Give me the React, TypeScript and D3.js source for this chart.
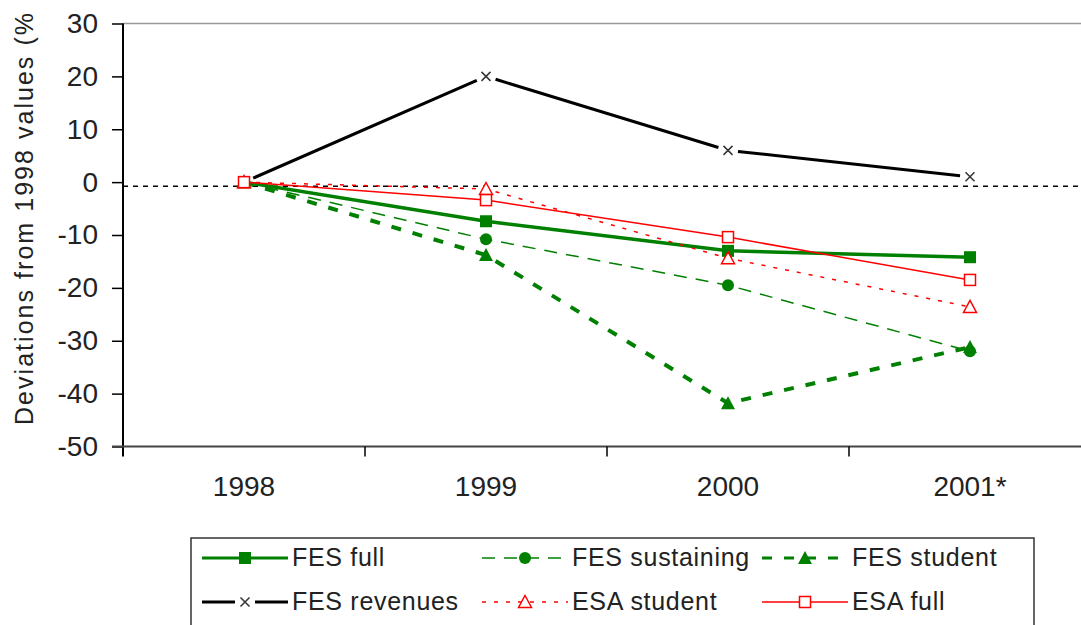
// @ts-nocheck
import * as d3 from "d3";
import React, { useRef, useEffect } from "react";

const years = ["1998", "1999", "2000", "2001*"];
const yTicks = [30, 20, 10, 0, -10, -20, -30, -40, -50];

const fesFull = [0, -7.4, -13.0, -14.2];
const fesSustaining = [0, -10.8, -19.5, -32.0];
const fesStudent = [0, -13.8, -41.8, -31.2];
const fesRevenues = [0, 20.0, 6.0, 1.0];
const esaStudent = [0, -1.3, -14.4, -23.6];
const esaFull = [0, -3.4, -10.4, -18.5];
const baseline = -0.8;

const GREEN = "#008000";
const RED = "#ff0000";

// drawing order (back to front); gap = blank space left around markers
const series = [
  { name: "FES revenues", values: fesRevenues, color: "#000", width: 3, dash: null, marker: "x", gap: 10 },
  { name: "FES student", values: fesStudent, color: GREEN, width: 4, dash: "10,12", marker: "triFill", gap: 0 },
  { name: "FES sustaining", values: fesSustaining, color: GREEN, width: 1.5, dash: "13,9", marker: "circle", gap: 0 },
  { name: "FES full", values: fesFull, color: GREEN, width: 3.5, dash: null, marker: "squareFill", gap: 0 },
  { name: "ESA student", values: esaStudent, color: RED, width: 1.5, dash: "4,8", marker: "triOpen", gap: 0 },
  { name: "ESA full", values: esaFull, color: RED, width: 1.5, dash: null, marker: "squareOpen", gap: 0 },
];

const legendOrder = ["FES full", "FES sustaining", "FES student", "FES revenues", "ESA student", "ESA full"];

function drawMarker(g, kind, cx, cy, color) {
  if (kind === "squareFill") {
    g.append("rect").attr("x", cx - 6).attr("y", cy - 6).attr("width", 12).attr("height", 12).attr("fill", color);
  } else if (kind === "squareOpen") {
    g.append("rect").attr("x", cx - 5.5).attr("y", cy - 5.5).attr("width", 11).attr("height", 11)
      .attr("fill", "#fff").attr("stroke", color).attr("stroke-width", 1.5);
  } else if (kind === "circle") {
    g.append("circle").attr("cx", cx).attr("cy", cy).attr("r", 6).attr("fill", color);
  } else if (kind === "triFill") {
    g.append("path").attr("d", `M${cx},${cy - 7}L${cx + 7},${cy + 6}L${cx - 7},${cy + 6}Z`).attr("fill", color);
  } else if (kind === "triOpen") {
    g.append("path").attr("d", `M${cx},${cy - 6.5}L${cx + 6.5},${cy + 5.5}L${cx - 6.5},${cy + 5.5}Z`)
      .attr("fill", "#fff").attr("stroke", color).attr("stroke-width", 1.5);
  } else if (kind === "x") {
    g.append("path").attr("d", `M${cx - 4.5},${cy - 4.5}L${cx + 4.5},${cy + 4.5}M${cx + 4.5},${cy - 4.5}L${cx - 4.5},${cy + 4.5}`)
      .attr("stroke", "#333").attr("stroke-width", 1.5).attr("fill", "none");
  }
}

export default function App() {
  const svgRef = useRef(null);

  useEffect(() => {
    const width = 1081;
    const height = 625;
    const left = 123, right = 1091, top = 23.5, bottom = 446.5;
    const font = "'Liberation Sans', Arial, sans-serif";

    const svg = d3.select(svgRef.current).attr("width", width).attr("height", height);
    svg.selectAll("*").remove();

    const x = d3.scaleBand().domain(years).range([left, right]).padding(0);
    const cx = d => x(d) + x.bandwidth() / 2;
    const y = d3.scaleLinear().domain([-50, 30]).range([bottom, top]);

    // top border of the plot area
    svg.append("line").attr("x1", left).attr("x2", width).attr("y1", top).attr("y2", top)
      .attr("stroke", "#999").attr("stroke-width", 1.5);

    // y axis
    const yAxis = svg.append("g").attr("transform", `translate(${left},0)`)
      .call(d3.axisLeft(y).tickValues(yTicks).tickFormat(d => String(d)).tickSize(11).tickPadding(14).tickSizeOuter(0));
    yAxis.select(".domain").attr("stroke", "#000").attr("stroke-width", 2).attr("d", `M0,${top}V${bottom + 10}`);
    yAxis.selectAll(".tick line").attr("stroke", "#000").attr("stroke-width", 1.5);
    yAxis.selectAll(".tick text").attr("font-family", font).attr("font-size", 28).attr("fill", "#222");

    // x axis with ticks at band edges
    const xAxis = svg.append("g").attr("transform", `translate(0,${bottom})`)
      .call(d3.axisBottom(x).tickSize(0).tickPadding(30).tickSizeOuter(0));
    xAxis.select(".domain").attr("d", `M${left - 11},0H${width}`).attr("stroke", "#444").attr("stroke-width", 2);
    xAxis.selectAll(".tick text").attr("font-family", font).attr("font-size", 28).attr("fill", "#222");
    xAxis.selectAll(".edge").data(years.slice(1)).enter().append("line").attr("class", "edge")
      .attr("x1", d => x(d)).attr("x2", d => x(d)).attr("y1", 0).attr("y2", 10)
      .attr("stroke", "#000").attr("stroke-width", 1.5);

    // y title (the original picture shows it truncated after "(%")
    svg.append("text")
      .attr("transform", `translate(33,425) rotate(-90)`)
      .attr("font-family", font).attr("font-size", 25).attr("fill", "#222")
      .attr("textLength", 412).attr("lengthAdjust", "spacing")
      .text("Deviations from 1998 values (%");

    // dashed reference line
    svg.append("line").attr("x1", left).attr("x2", width).attr("y1", y(baseline)).attr("y2", y(baseline))
      .attr("stroke", "#000").attr("stroke-width", 1.5).attr("stroke-dasharray", "5,5");

    series.forEach(s => {
      const pts = s.values.map((v, i) => [cx(years[i]), y(v)]);
      let d;
      if (s.gap > 0) {
        d = d3.pairs(pts).map(([a, b]) => {
          const dx = b[0] - a[0], dy = b[1] - a[1];
          const len = Math.hypot(dx, dy);
          const ux = dx / len, uy = dy / len;
          return `M${a[0] + ux * s.gap},${a[1] + uy * s.gap}L${b[0] - ux * s.gap},${b[1] - uy * s.gap}`;
        }).join("");
      } else {
        d = d3.line()(pts);
      }
      svg.append("path").attr("d", d).attr("fill", "none")
        .attr("stroke", s.color).attr("stroke-width", s.width)
        .attr("stroke-dasharray", s.dash);
    });
    series.forEach(s => {
      const g = svg.append("g");
      s.values.forEach((v, i) => drawMarker(g, s.marker, cx(years[i]), y(v), s.color));
    });

    // legend
    const lg = svg.append("g");
    lg.append("rect").attr("x", 191).attr("y", 538).attr("width", 843).attr("height", 110)
      .attr("fill", "#fff").attr("stroke", "#333").attr("stroke-width", 1.5);
    legendOrder.forEach((name, i) => {
      const s = series.find(d => d.name === name);
      const lx = 202 + (i % 3) * 280;
      const ly = 558 + Math.floor(i / 3) * 44;
      const item = lg.append("g");
      const lw = Math.min(s.width, 3);
      if (s.gap > 0) {
        item.append("path").attr("d", `M${lx},${ly}H${lx + 33}M${lx + 53},${ly}H${lx + 86}`)
          .attr("stroke", s.color).attr("stroke-width", lw);
      } else {
        item.append("line").attr("x1", lx).attr("x2", lx + 86).attr("y1", ly).attr("y2", ly)
          .attr("stroke", s.color).attr("stroke-width", lw)
          .attr("stroke-dasharray", s.dash);
      }
      drawMarker(item, s.marker, lx + 43, ly, s.color);
      item.append("text").attr("x", lx + 90).attr("y", ly + 8)
        .attr("font-family", font).attr("font-size", 25).attr("letter-spacing", 0.7)
        .attr("fill", "#222").text(name);
    });
  }, []);

  return <svg ref={svgRef} style={{ position: "absolute", left: 0, top: 0, background: "#fff" }} />;
}
